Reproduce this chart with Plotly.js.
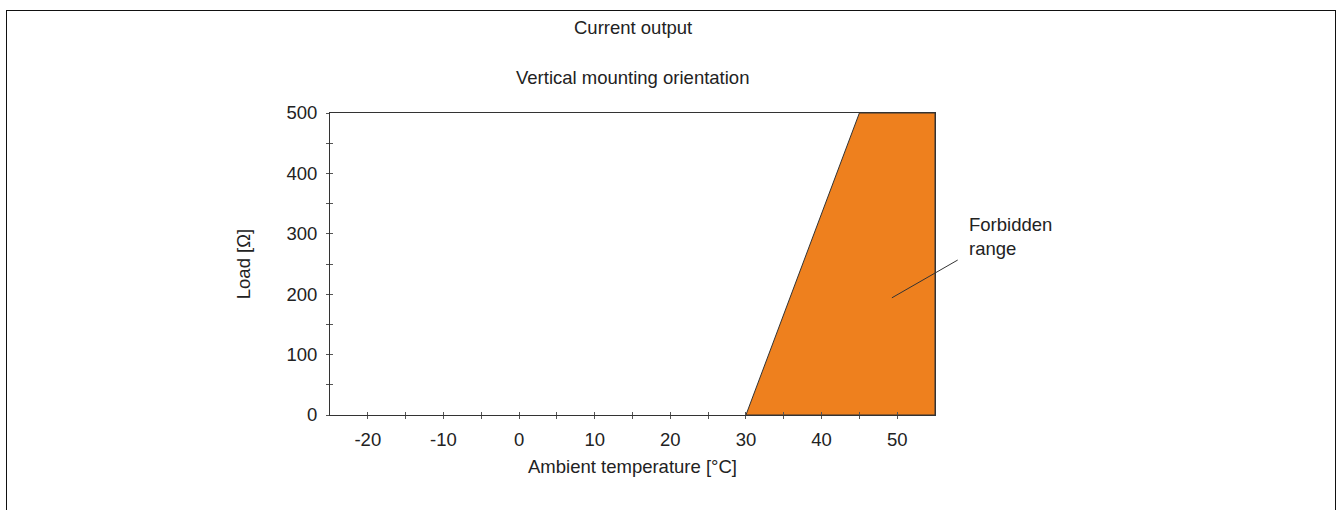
<!DOCTYPE html>
<html>
<head>
<meta charset="utf-8">
<script src="https://cdn.plot.ly/plotly-3.0.1.min.js"></script>
<style>
html,body{margin:0;padding:0;overflow:hidden;background:#fff;}
#chart{position:absolute;left:0;top:0;width:1339px;height:510px;}
#frame{position:absolute;left:6px;top:10px;width:1328px;height:600px;border:1px solid #111;pointer-events:none;}
</style>
</head>
<body>
<div id="chart"></div>
<div id="frame"></div>
<script>
// Data
const regionTemp = [30, 45, 55, 55, 30];     // °C
const regionLoad = [0, 500, 500, 0, 0];      // Ω
const xTickVals = [-20,-15,-10,-5,0,5,10,15,20,25,30,35,40,45,50];
const xTickText = ['-20','','-10','','0','','10','','20','','30','','40','','50'];
const yTickVals = [0,50,100,150,200,250,300,350,400,450,500];
const yTickText = ['0','','100','','200','','300','','400','','500'];
const labelText = 'Forbidden<br>range';
const pointerFrom = [58.2, 258];
const pointerTo = [49.3, 194];

const font = {family:'"Liberation Sans", Arial, sans-serif', size:18.5, color:'#222'};

const traces = [{
  x: regionTemp, y: regionLoad, type:'scatter', mode:'lines',
  fill:'toself', fillcolor:'#EE801E',
  line:{color:'#333', width:1}, hoverinfo:'skip', showlegend:false
},{
  x:[null], y:[null], xaxis:'x2', yaxis:'y2', type:'scatter', showlegend:false
}];

const axCommon = {
  showgrid:false, zeroline:false, showline:true, linecolor:'#333', linewidth:1,
  tickcolor:'#555', tickwidth:1, tickfont:font, mirror:true, tickmode:'array'
};

const layout = {
  width:1339, height:510,
  margin:{l:330, r:404, t:113, b:95},
  paper_bgcolor:'rgba(0,0,0,0)', plot_bgcolor:'#fff',
  font: font,
  xaxis: Object.assign({}, axCommon, {
    range:[-25,55], tickvals:xTickVals, ticktext:xTickText,
    ticks:'outside', ticklen:3, ticklabelstandoff:5,
    title:{text:'Ambient temperature [°C]', font:font, standoff:10}
  }),
  yaxis: Object.assign({}, axCommon, {
    range:[0,500], tickvals:yTickVals, ticktext:yTickText,
    ticks:'outside', ticklen:3, ticklabelstandoff:5,
    title:{text:'Load [Ω]', font:font, standoff:30}
  }),
  xaxis2: {overlaying:'x', matches:'x', range:[-25,55], tickmode:'array', tickvals:xTickVals,
    ticks:'inside', ticklen:3, tickcolor:'#555', showticklabels:false, showgrid:false, zeroline:false, showline:false},
  yaxis2: {overlaying:'y', matches:'y', range:[0,500], tickmode:'array', tickvals:yTickVals,
    ticks:'inside', ticklen:3, tickcolor:'#555', showticklabels:false, showgrid:false, zeroline:false, showline:false},
  annotations:[
    {text:'Current output', xref:'paper', yref:'paper', x:0.5, y:1, yshift:86, showarrow:false, font:font, xanchor:'center', yanchor:'middle'},
    {text:'Vertical mounting orientation', xref:'paper', yref:'paper', x:0.5, y:1, yshift:36, showarrow:false, font:font, xanchor:'center', yanchor:'middle'},
    {text:labelText, xref:'paper', yref:'paper', x:1.053, y:0.591, showarrow:false, align:'left', xanchor:'left', yanchor:'middle', font:font},
    {x:pointerTo[0], y:pointerTo[1], ax:pointerFrom[0], ay:pointerFrom[1], axref:'x', ayref:'y', xref:'x', yref:'y',
     text:'', showarrow:true, arrowhead:0, arrowwidth:1, arrowcolor:'#333', standoff:0, startstandoff:0}
  ]
};

Plotly.newPlot('chart', traces, layout, {displayModeBar:false, staticPlot:true});
</script>
</body>
</html>
